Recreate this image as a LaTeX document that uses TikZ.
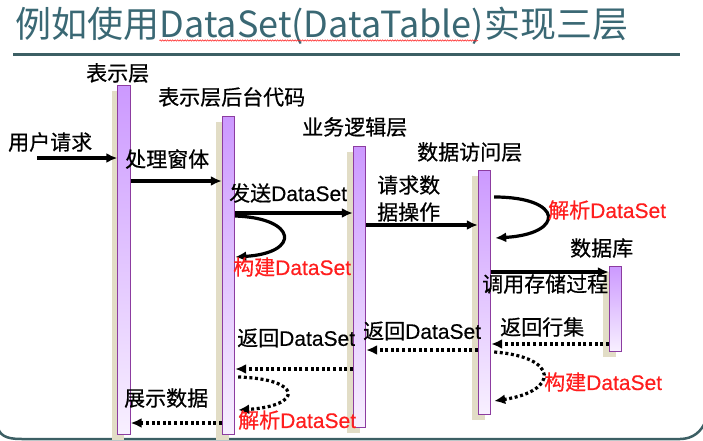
\documentclass[tikz,border=0pt]{standalone}
\usepackage{fontspec}
\setmainfont{Noto Sans CJK SC}[BoldFont={Noto Sans CJK SC}, BoldFeatures={FakeBold=0.6}]
\newfontfamily\lat{Liberation Sans}[BoldFont={Liberation Sans}, BoldFeatures={FakeBold=0.4}]
\usepackage{xcolor}
\usepackage{tikz}
\usetikzlibrary{arrows.meta,positioning,shadows,decorations.pathmorphing}
\definecolor{titlec}{RGB}{58,104,116}
\definecolor{rulec}{RGB}{60,95,100}
\definecolor{redc}{RGB}{255,30,30}
\definecolor{bartop}{RGB}{204,153,255}
\definecolor{barbot}{RGB}{248,240,255}
\definecolor{barline}{RGB}{140,60,160}
\definecolor{shadowc}{RGB}{226,221,198}

\begin{document}
\begin{tikzpicture}[x=1pt, y=-1pt,
    lbl/.style={anchor=west, inner sep=0pt, font=\fontsize{21}{25}\selectfont\bfseries},
    redlbl/.style={lbl, text=redc},
    ttl/.style={anchor=base west, inner sep=0pt, text=titlec, font=\fontsize{36}{40}\selectfont},
    bar/.style={draw=barline, line width=0.9pt, top color=bartop, bottom color=barbot,
        minimum width=12.5pt, inner sep=0pt, anchor=north,
        drop shadow={shadow xshift=-6pt, shadow yshift=-6pt, fill=shadowc, opacity=1}},
    msg/.style={line width=3.2pt, -{Latex[length=11pt, width=10pt]}},
    ret/.style={msg, dash pattern=on 3pt off 2.6pt}]
    \useasboundingbox (0,0) rectangle (703,441);

    \node[ttl] (t1) at (15,38) {例如使用};
    \node[ttl] (t2) at (t1.base east) {DataSet(DataTable)};
    \node[ttl] (t3) at (t2.base east) {实现三层};
    \draw[redc, line width=0.5pt, decorate, decoration={snake, amplitude=0.7pt, segment length=2.5pt}]
        ([yshift=-2.5pt]t2.base west) -- ([yshift=-2.5pt,xshift=-6pt]t2.base east);
    \draw[rulec, line width=3pt] (13,55) -- (680,55);
    \draw[rulec, line width=2.5pt] (-2,428) to[out=-75,in=180] (22,439) -- (680,439)
        to[out=0,in=-110] (706,420);

    \foreach \n/\x/\y/\h in {b1/124/85/349, b2/228.5/116/318, b3/359.5/146/281,
        b4/484.5/170/244, b5/615.5/266/85}
        \node[bar, minimum height=\h pt] (\n) at (\x,\y) {};

    \node[lbl] (l1) at (86,73) {表示层};
    \node[lbl] (l2) at (158,97) {表示层后台代码};
    \node[lbl] (l3) at (302,127) {业务逻辑层};
    \node[lbl] (l4) at (417,152) {数据访问层};
    \node[lbl] (l5) at (570,248) {数据库};

    \node[lbl] (u) at (8,142) {用户请求};
    \coordinate (u0) at (37,158);
    \draw[msg] (u0) -- (b1.west |- u0);
    \node[lbl] (a1) at (125,159) {处理窗体};
    \draw[msg] (b1.east |- 0,181) -- (b2.west |- 0,181);
    \node[lbl] (a2) at (229,193) {发送{\lat DataSet}};
    \draw[msg] (b2.east |- 0,213) -- (b3.west |- 0,213);
    \draw[msg] (b2.east |- 0,216) .. controls +(62,2) and +(66,-4) .. (b2.east |- 0,257);
    \node[redlbl] (a3) at (233,267) {构建{\lat DataSet}};
    \node[lbl] (a4) at (377,185) {请求数};
    \node[lbl] (a5) at (377,212) {据操作};
    \draw[msg] (b3.east |- 0,225) -- (b4.west |- 0,225);
    \draw[msg] ([xshift=3pt]b4.east |- 0,197) .. controls +(70,0) and +(70,-4) .. ([xshift=4pt]b4.east |- 0,238);
    \node[redlbl] (a6) at (548,210) {解析{\lat DataSet}};
    \node[lbl] (a7) at (482,284) {调用存储过程};
    \draw[msg] (b4.east |- 0,272) -- (b5.west |- 0,272);

    \node[lbl] (r1) at (500,327) {返回行集};
    \draw[ret] (b5.west |- 0,344) -- (b4.east |- 0,344);
    \draw[ret] ([xshift=3pt]b4.east |- 0,352) .. controls +(65,5) and +(65,-10) .. ([xshift=3pt]b4.east |- 0,401);
    \node[redlbl] (r2) at (544,382) {构建{\lat DataSet}};
    \node[lbl] (r3) at (363,331) {返回{\lat DataSet}};
    \draw[ret] (b4.west |- 0,350) -- (b3.east |- 0,350);
    \node[lbl] (r4) at (237,338) {返回{\lat DataSet}};
    \draw[ret] (b3.west |- 0,369) -- (b2.east |- 0,369);
    \draw[ret] ([xshift=3pt]b2.east |- 0,377) .. controls +(65,2) and +(65,-4) .. ([xshift=3pt]b2.east |- 0,410);
    \node[redlbl] (r5) at (238,420) {解析{\lat DataSet}};
    \node[lbl] (r6) at (124,398) {展示数据};
    \draw[ret] (b2.west |- 0,423) -- (b1.east |- 0,423);
\end{tikzpicture}
\end{document}
